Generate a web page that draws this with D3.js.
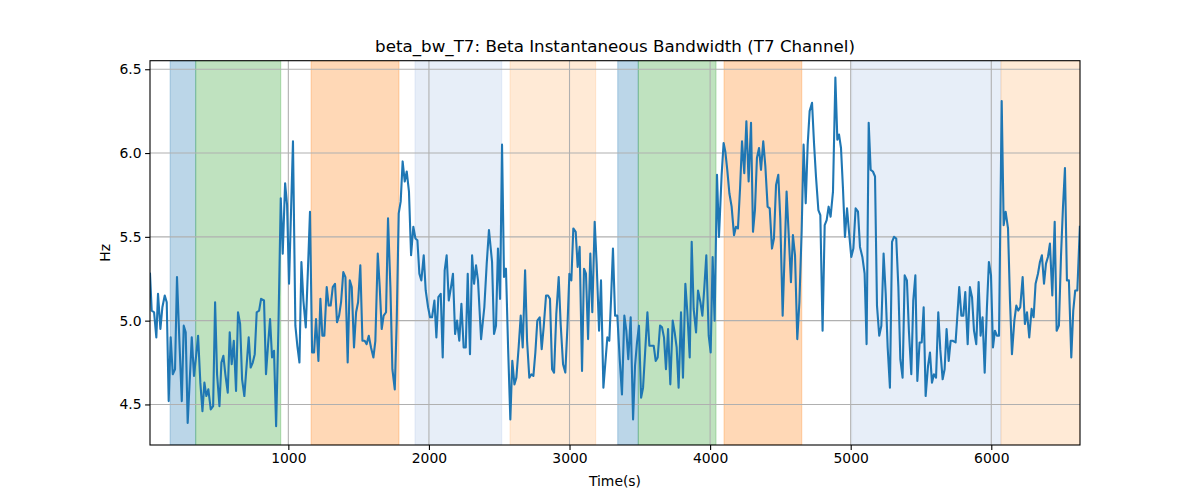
<!DOCTYPE html>
<html><head><meta charset="utf-8">
<script src="https://cdn.jsdelivr.net/npm/d3@7"></script>
<style>body{margin:0;background:#fff} text{font-family:"DejaVu Sans",sans-serif;fill:#000}</style>
</head><body>
<svg id="c" width="1200" height="500"></svg>
<script>
const titleText = "beta_bw_T7: Beta Instantaneous Bandwidth (T7 Channel)";
const xLabel = "Time(s)";
const yLabel = "Hz";
const xTicks = [1000, 2000, 3000, 4000, 5000, 6000];
const yTicks = [4.5, 5.0, 5.5, 6.0, 6.5];
const yTickLabels = ["4.5", "5.0", "5.5", "6.0", "6.5"];

// shaded intervals: start, end, kind
const bandStart = [159, 341, 1162, 1901, 2577, 3343, 3489, 4099, 5007, 6069];
const bandEnd   = [341, 946, 1787, 2518, 3186, 3489, 4042, 4652, 6069, 6631];
const bandKind  = ["blue", "green", "orange", "lightblue", "lightorange", "blue", "green", "orange", "lightblue", "lightorange"];

const times = [16,28,45,61,73,90,104,121,135,149,163,178,194,208,225,242,256,270,284,299,313,329,344,358,374,389,403,417,431,448,465,479,493,510,524,538,552,569,583,597,612,628,642,657,671,687,702,718,732,747,761,775,792,806,
827,841,856,870,884,898,913,929,946,960,977,991,1005,1019,1033,1050,1064,1079,1093,1107,1124,1140,1154,1169,1183,1197,1214,1228,1242,1256,1273,1287,1301,1316,1332,1346,1361,1375,1391,1406,1422,1437,1451,1467,1482,1496,1512,1527,1543,1557,1572,1588,1605,1619,
1636,1650,1664,1678,1695,1709,1726,1740,1757,1771,1785,1799,1813,1828,1842,1858,1873,1889,1904,1918,1932,1946,1963,1977,1994,2008,2022,2039,2053,2067,2084,2098,2112,2126,2141,2157,2171,2186,2200,2216,2231,2247,2262,2276,2292,2307,2321,2335,2349,2371,2394,2411,2427,
2449,2463,2477,2491,2506,2520,2534,2548,2563,2579,2593,2608,2622,2638,2653,2667,2684,2698,2714,2729,2743,2757,2771,2788,2802,2816,2833,2847,2861,2876,2890,2906,2923,2937,2954,2970,2985,2999,3013,3027,3044,3058,3072,3089,3103,3117,3132,3148,3162,3179,3193,3210,3224,3241,3255,3269,3283,
3295,3309,3324,3340,3357,3373,3390,3404,3418,3435,3452,3466,3480,3494,3509,3523,3537,3554,3568,3584,3599,3613,3627,3644,3658,3672,3686,3701,3717,3734,3748,3762,3776,3793,3807,3824,3838,3855,3869,3883,3900,3914,3931,3945,3959,3973,3990,4004,4018,4032,4049,4063,4082,4096,
4108,4122,4137,4153,4170,4184,4198,4213,4227,4243,4258,4274,4291,4305,4319,4333,4348,4362,4378,4393,4409,4424,4440,4454,4469,4485,4499,4516,4530,4544,4561,4575,4589,4604,4620,4635,4651,4665,4680,4694,4708,4725,4739,4753,4770,4784,4800,4815,4829,4843,4857,4874,4891,4905,
4917,4931,4945,4959,4974,4988,5004,5019,5035,5052,5066,5083,5099,5113,5128,5142,5158,5173,5187,5203,5218,5234,5249,5263,5279,5294,5308,5324,5339,5353,5369,5384,5400,5414,5431,5445,5460,5474,5490,5505,5519,5533,5550,5564,5578,5592,5607,5623,5637,5654,5668,5682,5697,5711,5725,
5746,5758,5772,5787,5801,5815,5832,5848,5863,5877,5893,5910,5924,5938,5953,5969,5983,5998,6012,6026,6040,6055,6074,6088,6102,6119,6133,6147,6164,6178,6192,6206,6223,6239,6254,6270,6287,6301,6315,6332,6346,6360,6375,6389,6403,6417,6434,6451,6465,6481,6496,6510,6524,6538,6552,6569,6583,6597,6612,6630];

const values = [5.28,5.06,5.05,4.90,5.16,4.95,5.08,5.15,5.11,4.52,4.90,4.68,4.71,5.26,4.88,4.52,4.97,4.93,4.39,4.65,4.90,4.67,4.79,4.91,4.63,4.46,4.63,4.55,4.59,4.47,4.49,5.11,4.68,4.49,4.75,4.79,4.68,4.57,4.93,4.74,4.88,4.58,5.05,4.98,4.65,4.55,4.72,4.90,4.72,4.75,4.80,5.05,5.06,5.13,
5.12,4.68,4.86,5.01,4.78,4.82,4.37,4.94,5.73,5.40,5.82,5.69,5.22,5.65,6.07,4.97,4.85,4.75,5.35,5.12,4.96,5.32,5.65,4.81,4.81,5.01,4.76,5.13,4.91,4.91,5.20,5.09,5.09,5.20,5.22,4.99,5.03,5.11,5.29,5.26,4.75,5.24,5.20,4.84,5.05,5.11,5.33,4.88,4.88,4.86,4.91,4.84,4.78,4.88,
5.40,5.20,4.95,5.03,5.05,5.61,5.20,4.71,4.59,5.00,5.64,5.71,5.95,5.83,5.89,5.77,5.39,5.56,5.49,5.48,5.28,5.24,5.39,5.18,5.08,5.02,5.02,5.12,4.90,5.14,5.16,4.78,5.30,5.39,5.12,5.20,5.28,4.92,5.00,4.88,5.10,4.84,4.84,5.28,4.80,5.39,5.22,5.33,5.24,4.89,5.08,5.34,5.54,
5.35,4.92,4.97,5.43,5.13,6.05,5.26,5.31,4.84,4.41,4.76,4.62,4.66,4.84,5.03,4.84,5.30,4.88,4.66,4.68,4.67,4.81,5.00,5.02,4.83,4.96,5.15,5.15,5.13,4.71,4.69,5.04,5.26,4.98,4.74,4.69,4.96,5.28,5.24,5.55,5.53,5.32,5.44,4.70,5.31,5.28,4.89,5.40,5.05,5.59,5.34,4.94,5.24,4.60,4.75,4.90,4.88,
5.12,5.43,5.03,5.03,4.77,4.56,5.03,4.94,4.77,5.02,4.41,4.73,4.87,4.97,4.54,4.60,4.80,5.05,4.85,4.85,4.85,4.76,4.78,4.97,4.96,4.90,4.71,4.95,4.62,5.00,4.93,4.84,4.60,5.05,4.66,5.22,5.05,4.78,5.47,5.07,4.93,5.18,5.11,5.03,5.20,5.39,4.91,4.81,5.38,5.00,5.87,5.50,5.87,6.06,
6.01,5.90,5.76,5.68,5.51,5.56,5.55,5.79,6.07,5.88,6.19,5.83,6.18,5.53,5.66,5.97,6.03,5.90,6.07,5.92,5.68,5.67,5.43,5.49,5.81,5.87,5.61,5.03,5.40,5.77,5.48,5.23,5.51,5.39,4.89,5.11,5.53,6.05,5.70,6.05,6.25,6.30,6.06,5.86,5.66,5.63,4.94,5.57,5.60,5.68,5.62,5.77,6.45,6.08,
6.11,6.03,5.79,5.50,5.67,5.53,5.38,5.43,5.67,5.65,5.44,5.38,5.28,4.86,6.18,5.90,5.89,5.86,5.09,4.91,4.97,5.40,5.16,4.84,4.60,5.47,5.50,5.49,5.20,4.77,4.66,5.27,5.24,4.94,4.68,5.12,5.27,4.64,4.87,4.87,5.08,4.55,4.73,4.81,4.63,4.68,4.66,5.05,4.83,4.65,4.71,4.95,4.76,4.88,4.88,
4.87,5.02,5.20,5.03,5.03,5.17,4.86,5.20,5.14,4.94,4.86,5.23,4.91,5.02,4.69,5.08,5.35,5.27,4.84,4.94,4.91,4.91,6.31,5.57,5.65,5.55,5.12,4.80,5.00,5.09,5.06,5.08,5.26,4.98,5.05,4.90,5.07,5.02,5.22,5.28,5.35,5.39,5.22,5.34,5.38,5.46,5.15,5.59,4.94,4.97,5.39,5.68,5.91,5.24,5.24,4.78,5.06,5.18,5.18,5.56];

const bandColor = {blue:"#1f77b4", green:"#2ca02c", orange:"#ff7f0e", lightblue:"#aec7e8", lightorange:"#ffbb78"};

const L = 150, R = 1080, T = 60.7, B = 445;
const svg = d3.select("#c");
const x = d3.scaleLinear().domain([16, 6631]).range([L, R]);
const y = d3.scaleLinear().domain([4.258, 6.551]).range([B, T]);

const plot = svg.append("g");
plot.append("defs").append("clipPath").attr("id","clip").append("rect")
  .attr("x", L).attr("y", T).attr("width", R-L).attr("height", B-T);

// bands
const bands = bandStart.map((s,i)=>({s, e: bandEnd[i], k: bandKind[i]}));
plot.append("g").attr("clip-path","url(#clip)").selectAll("rect").data(bands).join("rect")
  .attr("x", d=>x(d.s)).attr("width", d=>x(d.e)-x(d.s))
  .attr("y", T).attr("height", B-T)
  .attr("fill", d=>bandColor[d.k]).attr("fill-opacity", 0.3)
  .attr("stroke", d=>bandColor[d.k]).attr("stroke-opacity", 0.3).attr("stroke-width", 1);

// grid
const grid = plot.append("g").attr("stroke", "#b0b0b0").attr("stroke-width", 1.1);
grid.selectAll("line.gx").data(xTicks).join("line")
  .attr("x1", d=>x(d)).attr("x2", d=>x(d)).attr("y1", T).attr("y2", B);
grid.selectAll("line.gy").data(yTicks).join("line")
  .attr("y1", d=>y(d)).attr("y2", d=>y(d)).attr("x1", L).attr("x2", R);

// line
const data = times.map((t,i)=>[t, values[i]]);
plot.append("path").attr("clip-path","url(#clip)").datum(data)
  .attr("fill","none").attr("stroke","#1f77b4").attr("stroke-width",2.1)
  .attr("stroke-linejoin","round").attr("stroke-linecap","square")
  .attr("d", d3.line().x(d=>x(d[0])).y(d=>y(d[1])));

// axes
const fs = "13.9px";
const xAxis = d3.axisBottom(x).tickValues(xTicks).tickSize(4.9).tickPadding(3.5).tickFormat(d3.format("d"));
const gx = svg.append("g").attr("transform", `translate(0,${B})`).call(xAxis);
const yAxis = d3.axisLeft(y).tickValues(yTicks).tickSize(4.9).tickPadding(3.5).tickFormat((d,i)=>yTickLabels[i]);
const gy = svg.append("g").attr("transform", `translate(${L},0)`).call(yAxis);
[gx, gy].forEach(g=>{
  g.select(".domain").remove();
  g.selectAll(".tick line").attr("stroke","#000").attr("stroke-width",1.1);
  g.selectAll(".tick text").style("font-size", fs).attr("fill","#000").style("font-family","DejaVu Sans");
});

// frame
svg.append("rect").attr("x", L).attr("y", T).attr("width", R-L).attr("height", B-T)
  .attr("fill","none").attr("stroke","#000").attr("stroke-width",1.1);

svg.append("text").attr("x", (L+R)/2).attr("y", 52).attr("text-anchor","middle")
  .style("font-size","16.7px").text(titleText);
svg.append("text").attr("x", (L+R)/2).attr("y", 486).attr("text-anchor","middle")
  .style("font-size", fs).text(xLabel);
svg.append("text").attr("transform", `translate(110,${(T+B)/2}) rotate(-90)`).attr("text-anchor","middle")
  .style("font-size", fs).text(yLabel);
</script>
</body></html>
